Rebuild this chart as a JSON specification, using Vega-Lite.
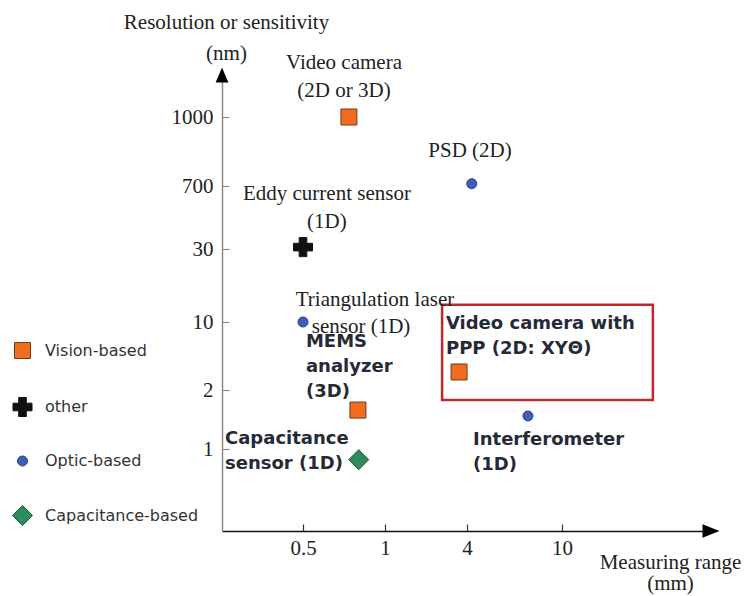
{
  "$schema": "https://vega.github.io/schema/vega-lite/v6.json",
  "width": 752,
  "height": 596,
  "autosize": {"type": "none"},
  "padding": 0,
  "background": "white",
  "config": {
    "view": {"stroke": null},
    "axis": {"grid": false},
    "legend": {
      "orient": "none",
      "legendX": 12,
      "legendY": 342,
      "labelFont": "DejaVu Sans",
      "labelFontSize": 16,
      "labelColor": "#333333",
      "labelOffset": 12,
      "rowPadding": 34,
      "symbolStrokeWidth": 1
    }
  },
  "encoding": {
    "x": {
      "field": "range",
      "type": "quantitative",
      "scale": {"domain": [0, 0.5, 1, 4, 10, 20], "range": [222, 303, 385, 467, 562, 711], "nice": false, "zero": false},
      "axis": {
        "values": [0.5, 1, 4, 10],
        "labelExpr": "'' + datum.value",
        "offset": -65,
        "domainColor": "#111111",
        "domainWidth": 1.5,
        "tickColor": "#333333",
        "tickSize": -7,
        "tickWidth": 1.2,
        "labelFont": "Liberation Serif",
        "labelFontSize": 21,
        "labelColor": "#222222",
        "labelPadding": 13,
        "title": ["Measuring range", "(mm)"],
        "titleFont": "Liberation Serif",
        "titleFontSize": 21,
        "titleFontWeight": "normal",
        "titleColor": "#222222",
        "titleAlign": "center",
        "titleBaseline": "middle",
        "titleLineHeight": 21,
        "titleX": 670,
        "titleY": 31
      }
    },
    "y": {
      "field": "resolution",
      "type": "quantitative",
      "scale": {"domain": [0, 1, 2, 10, 30, 700, 1000, 2000], "range": [531, 449, 390, 322, 249, 186, 117, 75], "nice": false, "zero": false},
      "axis": {
        "values": [1, 2, 10, 30, 700, 1000],
        "labelExpr": "'' + datum.value",
        "offset": -222,
        "domainColor": "#8c8c8c",
        "domainWidth": 1.5,
        "tickColor": "#8c8c8c",
        "tickSize": -7,
        "tickWidth": 1.2,
        "labelFont": "Liberation Serif",
        "labelFontSize": 21,
        "labelColor": "#222222",
        "labelPadding": 16,
        "title": ["Resolution or sensitivity", "(nm)"],
        "titleFont": "Liberation Serif",
        "titleFontSize": 21,
        "titleFontWeight": "normal",
        "titleColor": "#222222",
        "titleAngle": 0,
        "titleAlign": "center",
        "titleBaseline": "middle",
        "titleLineHeight": 31,
        "titleX": 4,
        "titleY": 22
      }
    }
  },
  "layer": [
    {
      "data": {"values": [{"range": 3.09, "range2": 16.1, "resolution": 14.7, "resolution2": 1.83}]},
      "mark": {"type": "rect", "fill": "white", "fillOpacity": 0, "stroke": "#c1272d", "strokeWidth": 2.5},
      "encoding": {
        "x2": {"field": "range2"},
        "y2": {"field": "resolution2"}
      }
    },
    {
      "data": {"values": [
        {"label": "Video camera\n(2D or 3D)", "range": 0.75, "resolution": 2286},
        {"label": "PSD (2D)", "range": 4.19, "resolution": 852},
        {"label": "Eddy current sensor\n(1D)", "range": 0.646, "resolution": 615},
        {"label": "Triangulation laser", "range": 0.939, "resolution": 16.0},
        {"label": "sensor (1D)", "range": 0.854, "resolution": 9.41}
      ]},
      "mark": {"type": "text", "font": "Liberation Serif", "fontSize": 21, "color": "#222222", "align": "center", "baseline": "middle", "lineBreak": "\n", "lineHeight": 28.5},
      "encoding": {"text": {"field": "label", "type": "nominal"}}
    },
    {
      "data": {"values": [
        {"label": "MEMS\nanalyzer\n(3D)", "range": 0.518, "resolution": 7.65},
        {"label": "Capacitance\nsensor (1D)", "range": 0.0185, "resolution": 1.17},
        {"label": "Video camera with\nPPP (2D: XYΘ)", "range": 3.23, "resolution": 9.76},
        {"label": "Interferometer\n(1D)", "range": 4.38, "resolution": 1.15}
      ]},
      "mark": {"type": "text", "font": "DejaVu Sans", "fontWeight": "bold", "fontSize": 18, "color": "#262a36", "align": "left", "baseline": "middle", "lineBreak": "\n", "lineHeight": 25},
      "encoding": {"text": {"field": "label", "type": "nominal"}}
    },
    {
      "data": {"values": [
        {"name": "Video camera", "type": "Vision-based", "range": 0.78, "resolution": 1000},
        {"name": "PSD", "type": "Optic-based", "range": 4.3, "resolution": 710},
        {"name": "Eddy current sensor", "type": "other", "range": 0.5, "resolution": 50},
        {"name": "Triangulation laser sensor", "type": "Optic-based", "range": 0.5, "resolution": 10},
        {"name": "MEMS analyzer", "type": "Vision-based", "range": 0.835, "resolution": 1.66},
        {"name": "Capacitance sensor", "type": "Capacitance-based", "range": 0.84, "resolution": 0.87},
        {"name": "Video camera with PPP", "type": "Vision-based", "range": 3.71, "resolution": 4.12},
        {"name": "Interferometer", "type": "Optic-based", "range": 7.85, "resolution": 1.56}
      ]},
      "mark": {"type": "point", "filled": true, "opacity": 1, "strokeWidth": 1},
      "encoding": {
        "fill": {"field": "type", "type": "nominal", "scale": {"domain": ["Vision-based", "other", "Optic-based", "Capacitance-based"], "range": ["#f36c1e", "#111111", "#3e5fb7", "#2e8b5a"]}, "legend": {"title": null}},
        "stroke": {"field": "type", "type": "nominal", "scale": {"domain": ["Vision-based", "other", "Optic-based", "Capacitance-based"], "range": ["#6b3a1f", "#111111", "#2a3f7f", "#1d5a3a"]}, "legend": {"title": null}},
        "shape": {"field": "type", "type": "nominal", "scale": {"domain": ["Vision-based", "other", "Optic-based", "Capacitance-based"], "range": ["square", "cross", "circle", "diamond"]}, "legend": {"title": null}},
        "size": {"field": "type", "type": "nominal", "scale": {"type": "ordinal", "domain": ["Vision-based", "other", "Optic-based", "Capacitance-based"], "range": [256, 361, 100, 400]}, "legend": {"title": null}}
      }
    },
    {
      "data": {"values": [{"range": 0, "resolution": 2000}]},
      "mark": {"type": "point", "filled": true, "opacity": 1, "color": "#000000", "shape": "M0,-1L0.85,1L-0.85,1Z", "size": 225}
    },
    {
      "data": {"values": [{"range": 20, "resolution": 0}]},
      "mark": {"type": "point", "filled": true, "opacity": 1, "color": "#000000", "shape": "M1,0L-1,0.78L-1,-0.78Z", "size": 289}
    }
  ]
}
